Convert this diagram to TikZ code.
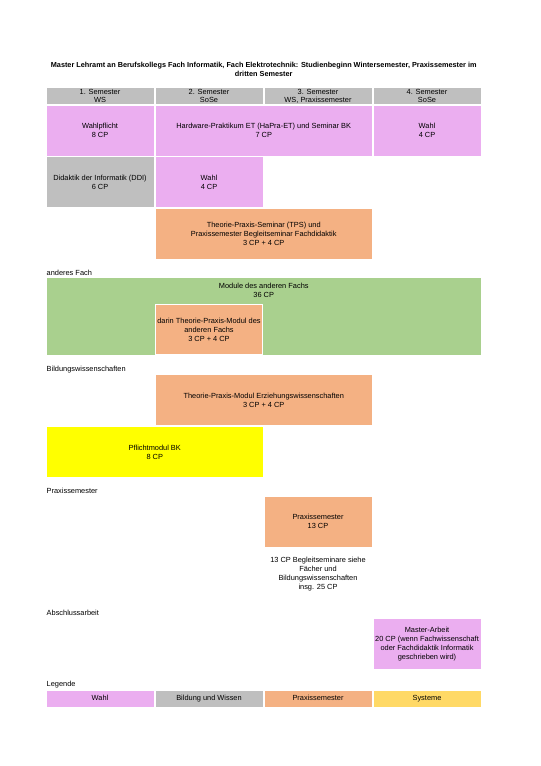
\documentclass[tikz,border=0pt]{standalone}
\usepackage{fontspec}
\setmainfont{Liberation Sans}
\usetikzlibrary{positioning}

\definecolor{wahlpink}{RGB}{235,174,240}
\definecolor{bildgrau}{RGB}{191,191,191}
\definecolor{praxorange}{RGB}{244,177,131}
\definecolor{fachgruen}{RGB}{169,208,142}
\definecolor{pflichtgelb}{RGB}{255,255,0}
\definecolor{systemgelb}{RGB}{255,217,102}

\begin{document}
\begin{tikzpicture}[
        % --- THIẾT LẬP CHUNG ---
        x=1pt, y=-1pt, % 1 đơn vị = 1 pixel, trục y đi xuống
        % Ô của bảng (một học kỳ)
        cell/.style={
            rectangle,
            inner sep=0pt,
            minimum width=107pt,
            minimum height=50pt,
            align=center,
            font=\fontsize{7.4}{9}\selectfont
        },
        % Ô trải qua hai học kỳ
        wide/.style={
            cell,
            minimum width=216.5pt
        },
        % Ô tiêu đề học kỳ
        headcell/.style={
            cell,
            minimum height=16pt,
            font=\fontsize{7.4}{8.2}\selectfont
        },
        % Ô chú giải (một dòng)
        legendcell/.style={
            headcell,
            text height=5.4pt,
            text depth=1.6pt
        },
        % Nhãn của từng phần
        section/.style={
            anchor=west,
            inner sep=0pt,
            font=\fontsize{7.4}{9}\selectfont
        },
        % Màu các loại module
        wahl/.style={fill=wahlpink},
        bildung/.style={fill=bildgrau},
        praxis/.style={fill=praxorange},
        fach/.style={fill=fachgruen},
        pflicht/.style={fill=pflichtgelb},
        system/.style={fill=systemgelb}
    ]
    \useasboundingbox (0,0) rectangle (541,766);

    % --- TIÊU ĐỀ ---
    \node[align=center, inner sep=0pt, font=\fontsize{7.3}{9.5}\selectfont\bfseries] (title) at (263.75,69.5)
        {Master Lehramt an Berufskollegs Fach Informatik, Fach Elektrotechnik: Studienbeginn Wintersemester, Praxissemester im\\dritten Semester};

    % --- HÀNG TIÊU ĐỀ: CÁC HỌC KỲ ---
    \node[headcell, bildung] (sem1) at (100,96) {1. Semester\\WS};
    \node[headcell, bildung] (sem2) at (209,96) {2. Semester\\SoSe};
    \node[headcell, bildung] (sem3) at (318,96) {3. Semester\\WS, Praxissemester};
    \node[headcell, bildung] (sem4) at (427,96) {4. Semester\\SoSe};

    % --- FACH INFORMATIK ---
    \node[cell, wahl] (wpf) at (100,130.7) {Wahlpflicht\\8 CP};
    \node[wide, wahl] (hapra) at (263.75,130.7) {Hardware-Praktikum ET (HaPra-ET) und Seminar BK\\7 CP};
    \node[cell, wahl] (wahl4) at (427,130.7) {Wahl\\4 CP};

    \node[cell, bildung] (ddi) at (100,182.3) {Didaktik der Informatik (DDI)\\6 CP};
    \node[cell, wahl] (wahl2) at (209,182.3) {Wahl\\4 CP};

    \node[wide, praxis] (tps) at (263.75,234) {Theorie-Praxis-Seminar (TPS) und\\Praxissemester Begleitseminar Fachdidaktik\\3 CP + 4 CP};

    % --- ANDERES FACH ---
    \node[section] (lfach) at (46.5,273) {anderes Fach};
    \node[cell, fach, minimum width=434.5pt, minimum height=77pt] (module) at (263.75,316.5) {};
    \node[cell, minimum height=0pt, below=5.5pt of module.north] (moduletext) {Module des anderen Fachs\\36 CP};
    \node[cell, praxis, draw=white, line width=1.5pt, minimum height=50pt] (tpmfach) at (209,329.6)
        {darin Theorie-Praxis-Modul des\\anderen Fachs\\3 CP + 4 CP};

    % --- BILDUNGSWISSENSCHAFTEN ---
    \node[section] (lbild) at (46.5,369.3) {Bildungswissenschaften};
    \node[wide, praxis] (tpmew) at (263.75,400) {Theorie-Praxis-Modul Erziehungswissenschaften\\3 CP + 4 CP};
    \node[wide, pflicht] (pbk) at (154.75,452.2) {Pflichtmodul BK\\8 CP};

    % --- PRAXISSEMESTER ---
    \node[section] (lpraxis) at (46.5,491) {Praxissemester};
    \node[cell, praxis] (psem) at (318,521.7) {Praxissemester\\13 CP};
    \node[cell, minimum height=0pt] (pnote) at (318,574.2)
        {13 CP Begleitseminare siehe\\Fächer und\\Bildungswissenschaften\\insg. 25 CP};

    % --- ABSCHLUSSARBEIT ---
    \node[section] (labschluss) at (46.5,613.3) {Abschlussarbeit};
    \node[cell, wahl] (master) at (427,644)
        {Master-Arbeit\\20 CP (wenn Fachwissenschaft\\oder Fachdidaktik Informatik\\geschrieben wird)};

    % --- CHÚ GIẢI ---
    \node[section] (llegende) at (46.5,685) {Legende};
    \node[legendcell, wahl] (lgwahl) at (100,698.7) {Wahl};
    \node[legendcell, bildung] (lgbild) at (209,698.7) {Bildung und Wissen};
    \node[legendcell, praxis] (lgpraxis) at (318,698.7) {Praxissemester};
    \node[legendcell, system] (lgsystem) at (427,698.7) {Systeme};

\end{tikzpicture}
\end{document}
